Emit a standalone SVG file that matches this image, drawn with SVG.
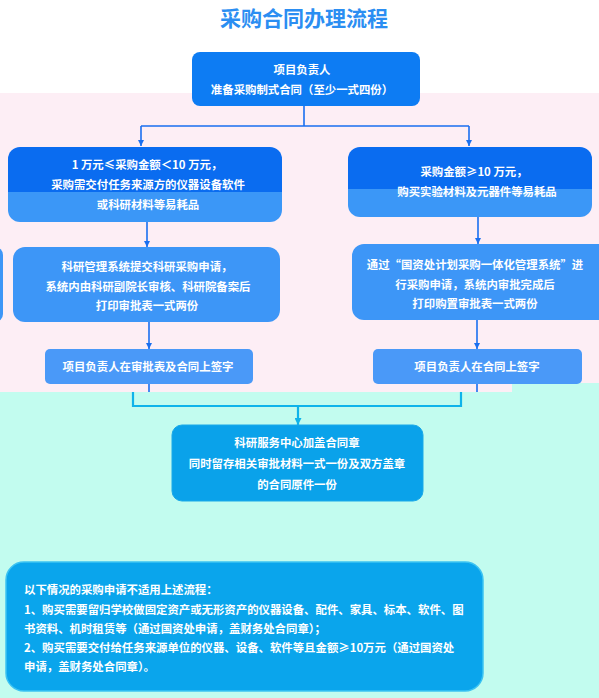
<svg xmlns="http://www.w3.org/2000/svg" width="599" height="698" viewBox="0 0 599 698">
<style>
text{font-family:"Noto Sans CJK SC","Noto Sans",sans-serif;font-weight:bold;fill:#fff;font-size:11.4px;text-anchor:middle}
.title{fill:#2b8ef2;font-size:21px}
.left{text-anchor:start}
.ln{stroke:#1a6ff0;stroke-width:1.6;fill:none}
.cy{stroke:#0fb3ea;stroke-width:2.2;fill:none}
</style>
<defs>
<linearGradient id="g2" x1="0" y1="0" x2="0" y2="1">
<stop offset="0" stop-color="#0a6cf0"/><stop offset="0.6" stop-color="#0a6cf0"/><stop offset="0.6" stop-color="#3b97f7"/><stop offset="1" stop-color="#3b97f7"/>
</linearGradient>
<marker id="ah" viewBox="0 0 10 10" refX="10" refY="5" markerWidth="6" markerHeight="6" markerUnits="userSpaceOnUse" orient="auto"><path d="M0,0L10,5L0,10z" fill="#1a6ff0"/></marker>
<marker id="ahc" viewBox="0 0 10 10" refX="10" refY="5" markerWidth="7" markerHeight="7" markerUnits="userSpaceOnUse" orient="auto"><path d="M0,0L10,5L0,10z" fill="#0fb3ea"/></marker>
</defs>
<rect x="0" y="0" width="599" height="698" fill="#ffffff"/>
<rect x="0" y="93" width="599" height="299" fill="#fdeef5"/>
<rect x="0" y="392" width="599" height="306" fill="#c2fcef"/>
<rect x="512" y="383" width="87" height="10" fill="#c2fcef"/>
<text class="title" x="304" y="26">采购合同办理流程</text>
<g id="connectors">
<path class="ln" d="M304,106V126M141,126H469"/>
<path class="ln" d="M141,126V146" marker-end="url(#ah)"/>
<path class="ln" d="M469,126V146" marker-end="url(#ah)"/>
<path class="ln" d="M147,222V247" marker-end="url(#ah)"/>
<path class="ln" d="M478,217V244" marker-end="url(#ah)"/>
<path class="ln" d="M149,322V349" marker-end="url(#ah)"/>
<path class="ln" d="M477,320V349" marker-end="url(#ah)"/>
<path class="ln" d="M149,384V392M477,384V392"/>
<path class="cy" d="M133,392V406H461V392M298,406V425" marker-end="url(#ahc)"/>
</g>
<g id="n0">
<rect x="192" y="52" width="228" height="54" rx="8" fill="#0d7cf3"/>
<text x="302" y="74">项目负责人</text>
<text x="302" y="94">准备采购制式合同（至少一式四份）</text>
</g>
<g id="n1">
<rect x="8" y="147" width="274" height="75" rx="12" fill="url(#g2)"/>
<text x="147" y="169">1 万元≤采购金额＜10 万元，</text>
<text x="148" y="189">采购需交付任务来源方的仪器设备软件</text>
<text x="148" y="209">或科研材料等易耗品</text>
</g>
<g id="n2">
<rect x="348" y="147" width="244" height="70" rx="12" fill="url(#g2)"/>
<text x="474" y="176">采购金额≥10 万元，</text>
<text x="477" y="196">购买实验材料及元器件等易耗品</text>
</g>
<g id="n3">
<rect x="-20" y="247" width="23" height="75" rx="8" fill="#3d96f7"/>
<rect x="13" y="247" width="267" height="75" rx="12" fill="#3d96f7"/>
<text x="147" y="271">科研管理系统提交科研采购申请，</text>
<text x="148" y="291">系统内由科研副院长审核、科研院备案后</text>
<text x="147" y="310">打印审批表一式两份</text>
</g>
<g id="n4">
<rect x="352" y="244" width="260" height="76" rx="12" fill="#3d96f7"/>
<text x="475" y="269">通过“国资处计划采购一体化管理系统”进</text>
<text x="475" y="289">行采购申请，系统内审批完成后</text>
<text x="475" y="308">打印购置审批表一式两份</text>
</g>
<g id="n5">
<rect x="45" y="349" width="208" height="35" rx="5" fill="#4a99f8"/>
<text x="148" y="371">项目负责人在审批表及合同上签字</text>
</g>
<g id="n6">
<rect x="373" y="349" width="209" height="35" rx="5" fill="#4a99f8"/>
<text x="477" y="371">项目负责人在合同上签字</text>
</g>
<g id="n7">
<rect x="172" y="425" width="251" height="76" rx="10" fill="#0aa2ea" stroke="#1aa9e8" stroke-width="1"/>
<text x="297" y="447">科研服务中心加盖合同章</text>
<text x="297" y="468">同时留存相关审批材料一式一份及双方盖章</text>
<text x="297" y="489">的合同原件一份</text>
</g>
<g id="n8">
<rect x="6" y="562" width="477" height="129" rx="18" fill="#0aa5ec" stroke="#3cc3f2" stroke-width="1.5"/>
<text class="left" x="24" y="594">以下情况的采购申请不适用上述流程：</text>
<text class="left" x="24" y="614">1、购买需要留归学校做固定资产或无形资产的仪器设备、配件、家具、标本、软件、图</text>
<text class="left" x="24" y="633">书资料、机时租赁等（通过国资处申请，盖财务处合同章）；</text>
<text class="left" x="24" y="652">2、购买需要交付给任务来源单位的仪器、设备、软件等且金额≥10万元（通过国资处</text>
<text class="left" x="24" y="671">申请，盖财务处合同章）。</text>
</g>
</svg>
